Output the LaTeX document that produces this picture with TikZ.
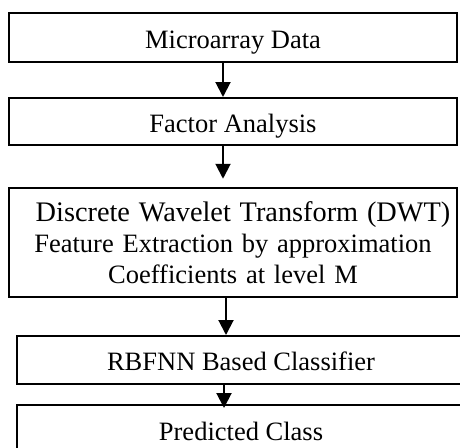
\documentclass[tikz,border=0pt]{standalone}
\usepackage{fontspec}
\setmainfont{Liberation Serif}
\usetikzlibrary{arrows.meta}
\begin{document}
\begin{tikzpicture}[x=1pt,y=-1pt,
  stagebox/.style={draw=black, line width=2pt, inner sep=0pt, minimum width=448pt,
    font=\fontsize{26.5}{31}\selectfont, align=center},
  oneline/.style={text height=22pt, text depth=0pt},
  flow/.style={line width=2pt, -{Triangle[width=15pt,length=15pt]}}]
\clip (0,0) rectangle (460,447);
\node[stagebox, oneline, minimum height=48.5pt] (b1) at (233,37.25) {Microarray Data};
\node[stagebox, oneline, minimum height=47pt] (b2) at (233,121.5) {Factor Analysis};
\node[stagebox, text width=448pt, minimum height=108.5pt] (b3) at (233,242.5) {{\fontsize{28.3}{31}\selectfont\hspace*{20pt}Discrete Wavelet Transform (DWT)}\\Feature Extraction by approximation\\Coefficients at level M};
\node[stagebox, text height=20.5pt, text depth=0pt, minimum height=47.5pt] (b4) at (241,359.75) {RBFNN Based Classifier};
\node[stagebox, text height=23pt, text depth=0pt, minimum height=47pt] (b5) at (241,428.5) {Predicted Class};
\draw[flow] ([xshift=-10pt]b1.south) -- ([xshift=-10pt]b2.north);
\draw[flow, shorten >=8.5pt] ([xshift=-10pt]b2.south) -- ([xshift=-10pt]b3.north);
\draw[flow] ([xshift=-7pt]b3.south) -- ([xshift=-15pt]b4.north);
\draw[flow, shorten >=-4pt] ([xshift=-17pt]b4.south) -- ([xshift=-17pt]b5.north);
\end{tikzpicture}
\end{document}
